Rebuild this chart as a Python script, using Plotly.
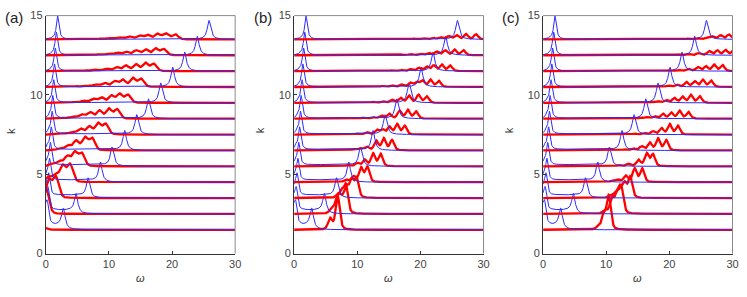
import numpy as np
import plotly.graph_objects as go

# ---------------- data ----------------
K_ROWS = list(range(1, 14))          # row index k ; baseline drawn at k + 0.5
BASE_SHIFT = 0.5
X_TICKS = [0, 10, 20, 30]
Y_TICKS = [0, 5, 10, 15]
PANEL_LABELS = ["(a)", "(b)", "(c)"]

# blue spectrum (identical in the three panels): low-frequency peak, far peak, broad hump
BLUE_LOW_POS = [0.25, 0.35, 0.47, 0.6, 0.73, 0.87, 1.0, 1.1, 1.25, 1.37, 1.5, 1.67, 1.88]
BLUE_LOW_H = [1.4, 1.4, 1.4, 1.4, 1.45, 1.45, 1.45, 1.45, 1.45, 1.45, 1.45, 1.45, 1.47]
BLUE_LOW2_POS = [0.0, 0.05, 0.1, 0.15, 0.2, 0.3, 0.4, 0.5, 0.6, 0.7, 0.8, 0.9, 1.0]
BLUE_LOW2_H = [1.0, 0.9, 0.7, 0.5, 0.35, 0.25, 0.15, 0.1, 0.08, 0.06, 0.05, 0.04, 0.03]
BLUE_FAR_POS = [2.8, 4.8, 6.7, 8.65, 10.5, 12.5, 14.4, 16.25, 18.2, 20.1, 22.0, 24.0, 25.85]
BLUE_FAR_H = [1.3, 1.25, 1.25, 1.25, 1.2, 1.25, 1.25, 1.25, 1.25, 1.25, 1.2, 1.2, 1.2]
BLUE_HUMP_H = [0.25, 0.22, 0.18, 0.14, 0.1, 0.07, 0.05, 0.03, 0.02, 0.01, 0.0, 0.0, 0.0]

# red spectra: per row, list of (centre, height); one width per panel
RED_A = [
    [(-0.3, 0.14)],
    [(0.05, 1.6)],
    [(0.5, 1.1), (1.6, 1.3)],
    [(0.4, 0.3), (1.55, 0.45), (2.7, 1.0), (3.85, 1.1)],
    [(1.0, 0.15), (2.2, 0.3), (3.4, 0.6), (4.6, 0.85), (5.7, 0.8)],
    [(2.2, 0.12), (3.5, 0.3), (4.8, 0.6), (6.2, 0.8), (7.35, 0.75)],
    [(2.8, 0.08), (4.2, 0.15), (5.5, 0.35), (6.9, 0.5), (8.3, 0.7), (9.5, 0.65)],
    [(3.0, 0.06), (4.4, 0.12), (5.7, 0.25), (7.0, 0.4), (8.5, 0.5), (10.0, 0.62), (11.3, 0.58)],
    [(4.5, 0.06), (6.0, 0.12), (7.5, 0.25), (8.8, 0.33), (10.4, 0.45), (11.7, 0.55), (13.0, 0.5)],
    [(5.0, 0.05), (6.5, 0.08), (7.9, 0.15), (9.3, 0.25), (10.9, 0.35), (12.2, 0.45), (13.8, 0.55), (15.1, 0.5)],
    [(6.5, 0.05), (8.0, 0.08), (9.6, 0.15), (11.2, 0.25), (12.7, 0.35), (14.3, 0.42), (15.8, 0.5), (17.1, 0.45)],
    [(7.0, 0.04), (8.5, 0.06), (10.0, 0.1), (11.3, 0.15), (12.7, 0.22), (14.3, 0.3), (15.8, 0.36), (17.4, 0.42), (18.7, 0.38)],
    [(7.5, 0.04), (8.9, 0.06), (10.3, 0.08), (11.7, 0.12), (13.2, 0.18), (14.8, 0.24), (16.1, 0.28), (17.7, 0.34), (19.0, 0.36), (20.5, 0.32)],
]
RED_B = [
    [(5.7, 0.7), (6.9, 2.1)],
    [(5.9, 0.25), (6.8, 1.0), (7.5, 1.2), (8.2, 1.7)],
    [(7.0, 0.25), (8.3, 0.7), (9.1, 1.05), (9.9, 1.2)],
    [(8.2, 0.15), (9.4, 0.35), (10.6, 0.9), (11.6, 0.95)],
    [(8.5, 0.08), (10.0, 0.2), (11.2, 0.4), (12.5, 0.8), (13.7, 0.77)],
    [(9.5, 0.08), (10.5, 0.12), (11.5, 0.22), (13.0, 0.6), (14.2, 0.75), (15.5, 0.65)],
    [(10.0, 0.06), (11.5, 0.15), (13.1, 0.28), (14.0, 0.3), (15.1, 0.48), (16.3, 0.65), (17.5, 0.55)],
    [(11.0, 0.06), (12.5, 0.1), (13.8, 0.2), (15.1, 0.3), (16.7, 0.5), (18.0, 0.55), (19.3, 0.45)],
    [(12.5, 0.06), (14.0, 0.1), (15.5, 0.18), (16.9, 0.3), (18.2, 0.45), (19.7, 0.5), (21.0, 0.4)],
    [(14.0, 0.06), (15.5, 0.1), (17.0, 0.15), (18.4, 0.25), (19.4, 0.3), (20.3, 0.4), (21.6, 0.45), (22.9, 0.38)],
    [(15.5, 0.05), (17.0, 0.08), (18.5, 0.12), (19.8, 0.2), (21.0, 0.28), (22.1, 0.35), (23.4, 0.4), (24.7, 0.35)],
    [(17.0, 0.05), (18.5, 0.07), (20.0, 0.1), (21.3, 0.15), (22.6, 0.22), (23.9, 0.3), (25.4, 0.36), (26.8, 0.32)],
    [(19.0, 0.05), (20.5, 0.07), (22.0, 0.1), (23.2, 0.14), (24.5, 0.2), (25.7, 0.26), (27.2, 0.34), (28.8, 0.32)],
]
RED_C = [
    [(8.7, 0.15), (9.6, 0.9), (10.4, 2.1)],
    [(9.8, 0.2), (10.9, 0.95), (11.7, 1.15), (12.4, 1.6)],
    [(10.5, 0.1), (11.3, 0.2), (12.1, 0.7), (12.9, 0.9), (13.8, 1.3)],
    [(11.0, 0.1), (11.9, 0.15), (13.1, 0.4), (14.5, 0.85), (15.7, 0.85)],
    [(12.0, 0.08), (13.5, 0.15), (15.1, 0.4), (16.4, 0.8), (17.4, 0.75)],
    [(13.0, 0.06), (14.3, 0.12), (15.6, 0.25), (16.9, 0.48), (18.2, 0.75), (19.5, 0.65)],
    [(14.5, 0.06), (16.0, 0.1), (17.4, 0.2), (18.75, 0.4), (20.05, 0.65), (21.35, 0.55)],
    [(15.5, 0.06), (16.5, 0.1), (17.7, 0.15), (19.0, 0.3), (20.3, 0.38), (21.6, 0.5), (23.0, 0.42)],
    [(17.0, 0.06), (18.2, 0.1), (19.5, 0.18), (20.8, 0.3), (22.1, 0.38), (23.4, 0.5), (24.8, 0.42)],
    [(18.5, 0.05), (19.8, 0.08), (21.2, 0.15), (22.7, 0.3), (24.0, 0.35), (25.3, 0.45), (26.6, 0.4)],
    [(20.0, 0.05), (21.5, 0.08), (23.0, 0.15), (24.5, 0.25), (25.8, 0.3), (27.1, 0.4), (28.4, 0.38)],
    [(21.5, 0.05), (23.0, 0.08), (24.6, 0.13), (26.3, 0.25), (27.6, 0.3), (28.9, 0.33), (30.2, 0.33)],
    [(23.0, 0.05), (24.5, 0.08), (26.0, 0.12), (26.8, 0.18), (28.1, 0.25), (29.4, 0.3), (30.7, 0.3)],
]
RED_PANELS = [RED_A, RED_B, RED_C]
RED_SIGMA = [0.45, 0.33, 0.33]      # gaussian part of the line shape
RED_LORENTZ_FRAC = [0.25, 0.35, 0.35]

# ---------------- layout geometry ----------------
W, H = 747, 297
X_PIX = [(43.3, 235.0), (294.7, 486.4), (546.7, 738.4)]
Y_PIX = (10.0, 258.0)  # top, bottom

RED = "#ff0000"
BLUE = "#2a2aff"

omega = np.linspace(0, 30, 1501)


def lorentz(c, h, g):
    return h * g * g / ((omega - c) ** 2 + g * g)


def pvoigt(c, h, s, eta):
    g = 1.1774 * s
    return h * ((1 - eta) * np.exp(-0.5 * ((omega - c) / s) ** 2)
                + eta * g * g / ((omega - c) ** 2 + g * g))


def blue_curve(i):
    y = lorentz(BLUE_LOW_POS[i], BLUE_LOW_H[i], 0.25)
    y += lorentz(BLUE_LOW2_POS[i], BLUE_LOW2_H[i], 0.2)
    y += lorentz(BLUE_FAR_POS[i], BLUE_FAR_H[i], 0.33)
    mid = 0.5 * (BLUE_LOW_POS[i] + BLUE_FAR_POS[i])
    half = 0.5 * (BLUE_FAR_POS[i] - BLUE_LOW_POS[i])
    y += BLUE_HUMP_H[i] * np.exp(-((omega - mid) / (0.9 * half)) ** 6)
    return y


fig = go.Figure()
for p in range(3):
    xa = "x" if p == 0 else f"x{p+1}"
    ya = "y" if p == 0 else f"y{p+1}"
    for i, k in enumerate(K_ROWS):
        base = k + BASE_SHIFT
        r = np.zeros_like(omega)
        for c, h in RED_PANELS[p][i]:
            r += pvoigt(c, h, RED_SIGMA[p], RED_LORENTZ_FRAC[p])
        fig.add_trace(go.Scatter(x=omega, y=base + r, mode="lines",
                                 line=dict(color=RED, width=2.3), xaxis=xa, yaxis=ya,
                                 showlegend=False, hoverinfo="skip"))
        fig.add_trace(go.Scatter(x=omega, y=base + blue_curve(i), mode="lines",
                                 line=dict(color=BLUE, width=1), xaxis=xa, yaxis=ya,
                                 showlegend=False, hoverinfo="skip"))

tickfont = dict(family="Liberation Sans, Arial, sans-serif", size=11, color="#444")
layout = dict(width=W, height=H, margin=dict(l=0, r=0, t=0, b=0),
              plot_bgcolor="white", paper_bgcolor="white", showlegend=False)
ydom = [1 - Y_PIX[1] / H, 1 - Y_PIX[0] / H]
shapes = []
annotations = []
for p in range(3):
    sx = "" if p == 0 else str(p + 1)
    xdom = [X_PIX[p][0] / W, X_PIX[p][1] / W]
    layout["xaxis" + sx] = dict(domain=xdom, range=[0, 30], tickvals=X_TICKS,
                                ticks="inside", ticklen=3, tickcolor="#333",
                                showline=True, linecolor="#333", linewidth=1,
                                showgrid=False, zeroline=False, tickfont=tickfont,
                                anchor="y" + sx)
    layout["yaxis" + sx] = dict(domain=ydom, range=[0, 15], tickvals=Y_TICKS,
                                ticks="inside", ticklen=3, tickcolor="#333",
                                showline=True, linecolor="#333", linewidth=1,
                                showgrid=False, zeroline=False, tickfont=tickfont,
                                anchor="x" + sx)
    # top and right frame lines (lighter grey)
    shapes.append(dict(type="line", xref=f"x{sx} domain", yref=f"y{sx} domain",
                       x0=0, x1=1, y0=1, y1=1, line=dict(color="#8a8a8a", width=1)))
    shapes.append(dict(type="line", xref=f"x{sx} domain", yref=f"y{sx} domain",
                       x0=1, x1=1, y0=0, y1=1, line=dict(color="#8a8a8a", width=1)))
    x0p = X_PIX[p][0]
    cx = 0.5 * (X_PIX[p][0] + X_PIX[p][1])
    annotations.append(dict(text=PANEL_LABELS[p], x=(x0p - 32) / W, y=1 - 12 / H,
                            xref="paper", yref="paper", showarrow=False,
                            xanchor="center", yanchor="middle",
                            font=dict(family="Liberation Sans, Arial", size=15, color="#222")))
    annotations.append(dict(text="<i>ω</i>", x=cx / W, y=1 - 283 / H,
                            xref="paper", yref="paper", showarrow=False,
                            xanchor="center", yanchor="middle",
                            font=dict(family="Liberation Sans, Arial", size=11, color="#333")))
    annotations.append(dict(text="k", x=(x0p - 35) / W, y=1 - 130 / H,
                            xref="paper", yref="paper", showarrow=False, textangle=-90,
                            xanchor="center", yanchor="middle",
                            font=dict(family="Liberation Sans, Arial", size=11, color="#333")))
layout["shapes"] = shapes
layout["annotations"] = annotations
fig.update_layout(**layout)
fig.write_html("out.html", config={"displayModeBar": False},
               post_script="document.body.style.margin='0';document.body.style.overflow='hidden';")
